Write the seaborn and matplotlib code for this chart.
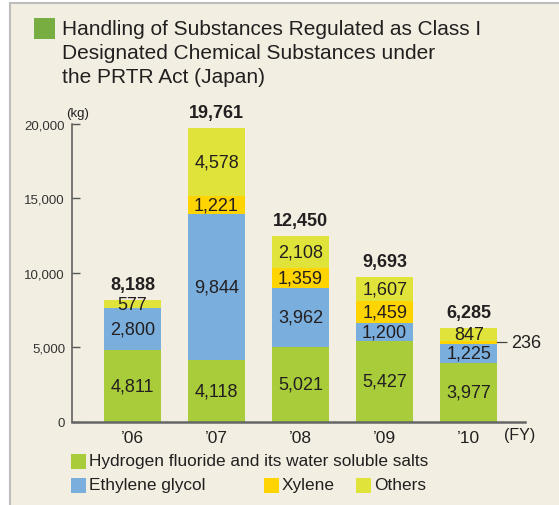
import numpy as np
import pandas as pd
import matplotlib
matplotlib.use("Agg")
import matplotlib.pyplot as plt
from matplotlib.patches import Rectangle
from matplotlib.ticker import FuncFormatter
import seaborn as sns

# values (kg)
YEARS = ["\u201906", "\u201907", "\u201908", "\u201909", "\u201910"]
HYDROGEN_FLUORIDE = [4811, 4118, 5021, 5427, 3977]
ETHYLENE_GLYCOL = [2800, 9844, 3962, 1200, 1225]
XYLENE = [0, 1221, 1359, 1459, 236]
OTHERS = [577, 4578, 2108, 1607, 847]
TOTALS = [8188, 19761, 12450, 9693, 6285]

SERIES = ["Hydrogen fluoride and its water soluble salts", "Ethylene glycol",
          "Xylene", "Others"]
COLORS = ["#A9CC3A", "#7AAEDD", "#FFD400", "#E0E33A"]
YTICKS = [0, 5000, 10000, 15000, 20000]
TITLE = ("Handling of Substances Regulated as Class I\n"
         "Designated Chemical Substances under\n"
         "the PRTR Act (Japan)")

TEXT = "#231F20"
W, H = 559, 506

plt.rcParams["font.family"] = ["Liberation Sans", "DejaVu Sans"]

df = pd.DataFrame({"year": YEARS, SERIES[0]: HYDROGEN_FLUORIDE, SERIES[1]: ETHYLENE_GLYCOL,
                   SERIES[2]: XYLENE, SERIES[3]: OTHERS})
cum = df[SERIES].cumsum(axis=1)

fig = plt.figure(figsize=(W / 100, H / 100), dpi=100)
fig.patch.set_facecolor("white")
fig.add_artist(Rectangle((10 / W, -0.05), 1.1, 1.05 - 4 / H, transform=fig.transFigure,
                         facecolor="#F2EFE2", edgecolor="#BDBDBD", lw=1.5, zorder=0))

ax = fig.add_axes([72 / W, 1 - 422.7 / H, (525 - 72) / W, (422.7 - 125) / H])
ax.set_facecolor("none")

# stacked bars: draw cumulative heights from the top layer down
for i in reversed(range(len(SERIES))):
    layer = pd.DataFrame({"year": YEARS, "top": cum[SERIES[i]].values})
    sns.barplot(data=layer, x="year", y="top", color=COLORS[i], saturation=1,
                width=0.68, errorbar=None, linewidth=0, edgecolor="none", ax=ax, zorder=2)

ax.set_xlim(-0.72, 4.67)
ax.set_ylim(0, 20000)

for i in range(len(YEARS)):
    for j, s in enumerate(SERIES):
        val = df[s].iloc[i]
        top = cum[s].iloc[i]
        if val >= 400:
            ax.text(i, top - val / 2, f"{val:,}", ha="center", va="center",
                    fontsize=13, color=TEXT, zorder=4)
        elif val > 0:
            ax.annotate(f"{val:,}", xy=(i + 0.34, top - val / 2), xytext=(10, 0),
                        textcoords="offset points", ha="left", va="center",
                        fontsize=13, color=TEXT, annotation_clip=False,
                        arrowprops=dict(arrowstyle="-", lw=0.9, color="#444444",
                                        shrinkA=1, shrinkB=0))
    ax.annotate(f"{TOTALS[i]:,}", xy=(i, TOTALS[i]), xytext=(0, 5),
                textcoords="offset points", ha="center", va="bottom",
                fontsize=13, fontweight="bold", color=TEXT, annotation_clip=False)

for side in ["top", "right"]:
    ax.spines[side].set_visible(False)
ax.spines["left"].set_color("#555555")
ax.spines["left"].set_linewidth(1.1)
ax.spines["bottom"].set_color("#666666")
ax.spines["bottom"].set_linewidth(1.8)
ax.spines["bottom"].set_zorder(5)

ax.set_yticks(YTICKS)
ax.yaxis.set_major_formatter(FuncFormatter(lambda v, p: f"{int(v):,}"))
ax.tick_params(axis="y", direction="in", length=6, width=1, color="#555555",
               labelsize=9.5, labelcolor="#333333", pad=5)
ax.tick_params(axis="x", length=0, labelsize=12.5, labelcolor=TEXT, pad=6)
ax.set_xlabel("")
ax.set_ylabel("")

ax.annotate("(kg)", xy=(0, 1), xycoords="axes fraction", xytext=(4, 8),
            textcoords="offset points", ha="center", va="center", fontsize=9.5, color=TEXT)
ax.annotate("(FY)", xy=(1, 0), xycoords="axes fraction", xytext=(10, -13),
            textcoords="offset pixels", ha="right", va="center", fontsize=11.5, color=TEXT)

# title block
fig.add_artist(Rectangle((34 / W, 1 - 40 / H), 21 / W, 21 / H, transform=fig.transFigure,
                         facecolor="#77AD41", edgecolor="none"))
fig.text(62 / W, 1 - 20 / H, TITLE, ha="left", va="top", fontsize=15,
         linespacing=1.33, color=TEXT)

# legend
LEGEND_POS = [(71, 462), (71, 486), (264, 486), (356, 486)]
for (px, py), label, col in zip(LEGEND_POS, SERIES, COLORS):
    fig.add_artist(Rectangle((px / W, 1 - (py + 7.5) / H), 15 / W, 15 / H,
                             transform=fig.transFigure, facecolor=col, edgecolor="none"))
    fig.text((px + 18) / W, 1 - py / H, label, ha="left", va="center",
             fontsize=12.4, color=TEXT)

fig.savefig("out.png", dpi=100, facecolor=fig.get_facecolor())
